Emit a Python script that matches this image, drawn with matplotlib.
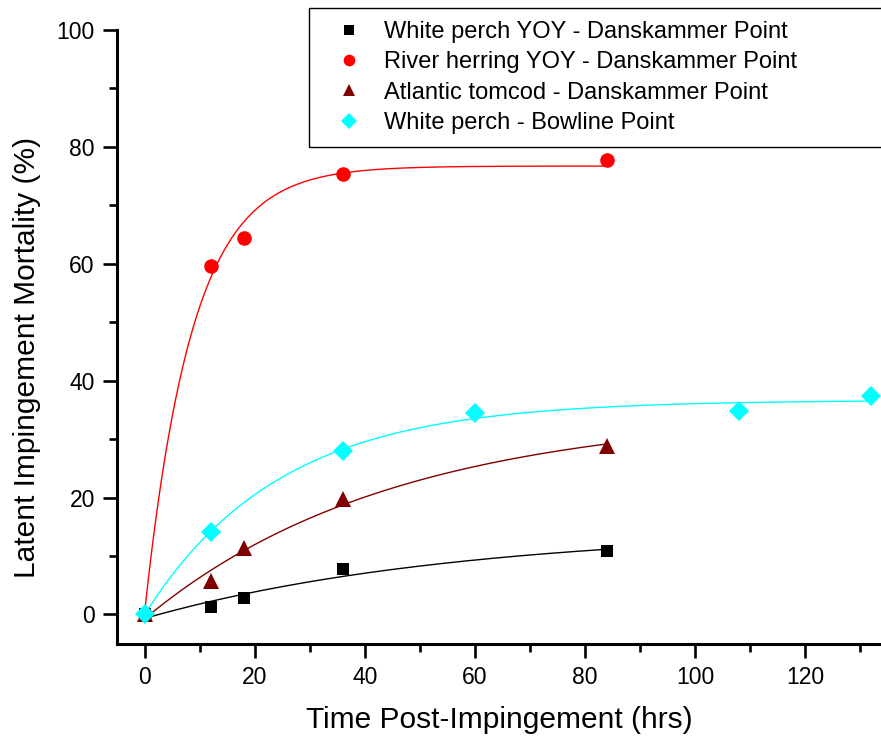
import numpy as np
import matplotlib
matplotlib.use("Agg")
import matplotlib.pyplot as plt
from matplotlib.ticker import MultipleLocator

plt.rcParams['font.family'] = ['Liberation Sans', 'DejaVu Sans']

# Observations: hours after impingement vs. latent mortality (%)
hours_dp = [0, 12, 18, 36, 84]
white_perch_yoy = [0.0, 1.3, 2.8, 7.7, 10.9]
river_herring_yoy = [0.0, 59.6, 64.4, 75.4, 77.7]
atlantic_tomcod = [0.0, 5.7, 11.3, 19.7, 28.9]

hours_bp = [0, 12, 36, 60, 108, 132]
white_perch_bp = [0.0, 14.1, 28.0, 34.4, 34.8, 37.4]

labels = ["White perch YOY - Danskammer Point",
          "River herring YOY - Danskammer Point",
          "Atlantic tomcod - Danskammer Point",
          "White perch - Bowline Point"]
colors = ["#000000", "#FF0000", "#800000", "#00FFFF"]
markers = ["s", "o", "^", "D"]
msizes = [9, 10.5, 11, 10]


def fit_rise(t, y):
    """Least-squares fit of y = c + a*(1 - exp(-k t)), grid over k."""
    t = np.asarray(t, float)
    y = np.asarray(y, float)
    best = None
    for k in np.logspace(-3.5, 0.5, 3000):
        X = np.column_stack([np.ones_like(t), 1 - np.exp(-k * t)])
        coef, *_ = np.linalg.lstsq(X, y, rcond=None)
        sse = np.sum((X @ coef - y) ** 2)
        if best is None or sse < best[0]:
            best = (sse, coef[0], coef[1], k)
    _, c, a, k = best
    return lambda tt: c + a * (1 - np.exp(-k * tt))


W, H = 881, 738
L, R, B, T = 117, 881, 643.7, 30
fig = plt.figure(figsize=(W / 100, H / 100), dpi=100)
ax = fig.add_axes([L / W, 1 - B / H, (R - L) / W, (B - T) / H])

series = [(hours_dp, white_perch_yoy), (hours_dp, river_herring_yoy),
          (hours_dp, atlantic_tomcod), (hours_bp, white_perch_bp)]

handles = []
for (t, y), lab, col, mk, ms in zip(series, labels, colors, markers, msizes):
    f = fit_rise(t, y)
    tt = np.linspace(0, max(t), 400)
    ax.plot(tt, f(tt), color=col, lw=1.0, zorder=2)
    h, = ax.plot(t, y, linestyle="none", marker=mk, color=col, markersize=ms,
                 markeredgewidth=0, label=lab, zorder=3, clip_on=False)
    handles.append(h)

ax.set_xlim(-5, 133.8)
ax.set_ylim(-5, 100)
ax.xaxis.set_major_locator(MultipleLocator(20))
ax.xaxis.set_minor_locator(MultipleLocator(10))
ax.yaxis.set_major_locator(MultipleLocator(20))
ax.yaxis.set_minor_locator(MultipleLocator(10))

for s in ("top", "right"):
    ax.spines[s].set_visible(False)
for s in ("left", "bottom"):
    ax.spines[s].set_linewidth(2.2)

ax.tick_params(which="major", direction="out", length=10, width=1.9,
               labelsize=16.5, pad=6)
ax.tick_params(which="minor", direction="out", length=5.5, width=1.9)

ax.set_xlabel("Time Post-Impingement (hrs)", fontsize=21.5, labelpad=12)
ax.set_ylabel("Latent Impingement Mortality (%)", fontsize=21.5, labelpad=11)
ax.yaxis.label.set_y(0.467)

# legend box: left edge at x=309 px, top at y=8 px, running past the right edge
lx0 = (309 - L) / (R - L)
ly1 = (B - 8) / (B - T)
lw = (883 - 309) / (R - L)
lh = (144 - 8) / (B - T)
leg = ax.legend(handles=handles, loc="upper left",
                bbox_to_anchor=(lx0, ly1 - lh, lw, lh), mode="expand",
                fontsize=17, frameon=True, fancybox=False, framealpha=1,
                edgecolor="black", markerscale=0.8, handlelength=2.3,
                handletextpad=0.33, labelspacing=0.35, borderpad=0.55,
                borderaxespad=0)
leg.get_frame().set_linewidth(1.0)

fig.savefig("out.png", dpi=100)
